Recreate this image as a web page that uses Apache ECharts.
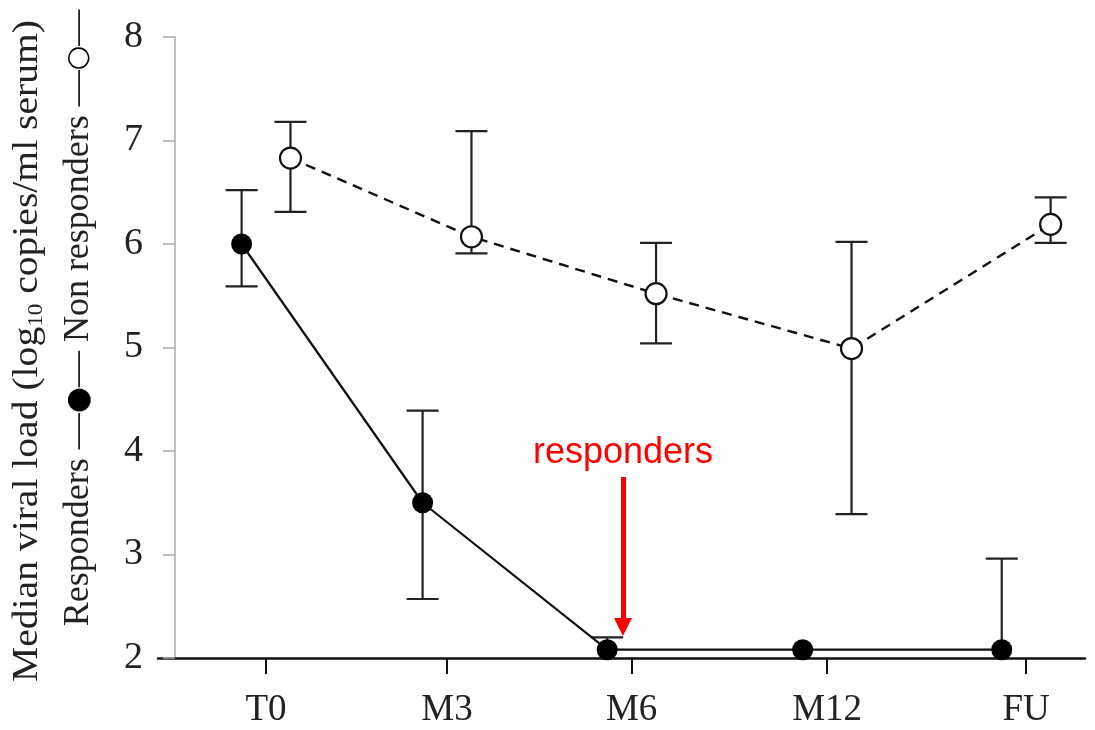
<!DOCTYPE html>
<html>
<head>
<meta charset="utf-8">
<script src="https://cdn.jsdelivr.net/npm/echarts@6/dist/echarts.min.js"></script>
<style>
  html, body { margin: 0; padding: 0; background: #fff; }
  #chart { width: 1095px; height: 730px; }
</style>
</head>
<body>
<div id="chart"></div>
<script>
// time points and where their ticks sit on the x scale
const categories = ['T0', 'M3', 'M6', 'M12', 'FU']
const tickPos = [0, 1, 2.02, 3.1, 4.2]
const dodge = 0.135

// responders (filled circles)
const respMedian = [6.0, 3.5, 2.08, 2.08, 2.08]
const respLow = [5.59, 2.57, null, null, null]
const respHigh = [6.52, 4.39, 2.2, null, 2.96]

// non responders (open circles)
const nonMedian = [6.83, 6.07, 5.52, 4.99, 6.19]
const nonLow = [6.31, 5.91, 5.04, 3.39, 6.01]
const nonHigh = [7.18, 7.09, 6.01, 6.02, 6.45]

// annotation arrow (x in axis units, y values)
const arrowX = 1.972
const arrowFrom = 3.75
const arrowTo = 2.3

const serif = '"Liberation Serif", "DejaVu Serif", serif'

const points = (median, shift) => median.map((v, i) => [tickPos[i] + shift, v])
const bars = (median, low, high, shift) =>
  median.map((v, i) => [tickPos[i] + shift, v, low[i] == null ? '-' : low[i], high[i] == null ? '-' : high[i]])

const renderErrorBar = (params, api) => {
  const x = api.value(0)
  const mid = api.value(1)
  const lo = api.value(2)
  const hi = api.value(3)
  const hasLo = !isNaN(lo)
  const hasHi = !isNaN(hi)
  if (!hasLo && !hasHi) return null
  const pMid = api.coord([x, mid])
  const pLo = api.coord([x, hasLo ? lo : mid])
  const pHi = api.coord([x, hasHi ? hi : mid])
  const half = 16
  const style = { stroke: '#222', lineWidth: 2.2 }
  const children = [{
    type: 'line',
    shape: { x1: pMid[0], y1: pLo[1], x2: pMid[0], y2: pHi[1] },
    style
  }]
  if (hasLo) {
    children.push({ type: 'line', shape: { x1: pLo[0] - half, y1: pLo[1], x2: pLo[0] + half, y2: pLo[1] }, style })
  }
  if (hasHi) {
    children.push({ type: 'line', shape: { x1: pHi[0] - half, y1: pHi[1], x2: pHi[0] + half, y2: pHi[1] }, style })
  }
  return { type: 'group', children }
}

const chart = echarts.init(document.getElementById('chart'))
chart.setOption({
  animation: false,
  backgroundColor: '#fff',
  grid: { left: 158, right: 10, top: 37, bottom: 72 },
  xAxis: {
    type: 'value',
    min: -0.597,
    max: 4.525,
    splitLine: { show: false },
    axisLine: { lineStyle: { color: '#111', width: 2.5 } },
    axisTick: { customValues: tickPos, length: 16, lineStyle: { color: '#111', width: 2 } },
    axisLabel: {
      customValues: tickPos,
      margin: 34,
      fontFamily: serif,
      fontSize: 37,
      color: '#222',
      formatter: (v) => {
        const i = tickPos.findIndex((t) => Math.abs(t - v) < 1e-6)
        return i >= 0 ? categories[i] : ''
      }
    }
  },
  yAxis: {
    type: 'value',
    min: 2,
    max: 8,
    interval: 1,
    offset: -17,
    splitLine: { show: false },
    axisLine: { show: true, onZero: false, lineStyle: { color: '#aaa', width: 1.5 } },
    axisTick: { show: true, length: 12, lineStyle: { color: '#aaa', width: 1.5 } },
    axisLabel: { margin: 32, fontFamily: serif, fontSize: 38, color: '#222' }
  },
  graphic: [{
    type: 'text',
    x: 28,
    y: 351,
    rotation: Math.PI / 2,
    scaleX: 1.1,
    style: {
      text: 'Median viral load (log{sub|10} copies/ml serum)',
      fontSize: 36,
      fontFamily: serif,
      fill: '#222',
      align: 'center',
      verticalAlign: 'middle',
      rich: {
        sub: { fontSize: 21, fontFamily: serif, verticalAlign: 'bottom', padding: [16, 0, 0, 0], fill: '#222' }
      }
    }
  }, {
    type: 'text',
    x: 79,
    y: 318,
    rotation: Math.PI / 2,
    style: {
      text: 'Responders —{dot|●}— Non responders —{ring|○}—',
      fontSize: 36,
      fontFamily: serif,
      fill: '#222',
      align: 'center',
      verticalAlign: 'middle',
      rich: {
        dot: { fontSize: 30, fontFamily: '"DejaVu Sans", sans-serif', fill: '#000' },
        ring: { fontSize: 28, fontFamily: '"DejaVu Sans", sans-serif', fill: '#000' }
      }
    }
  }],
  series: [{
    name: 'Responders error',
    type: 'custom',
    renderItem: renderErrorBar,
    encode: { x: 0, y: [1, 2, 3] },
    data: bars(respMedian, respLow, respHigh, -dodge),
    z: 2
  }, {
    name: 'Non responders error',
    type: 'custom',
    renderItem: renderErrorBar,
    encode: { x: 0, y: [1, 2, 3] },
    data: bars(nonMedian, nonLow, nonHigh, dodge),
    z: 2
  }, {
    name: 'Non responders',
    type: 'line',
    data: points(nonMedian, dodge),
    symbol: 'circle',
    symbolSize: 21,
    itemStyle: { color: '#fff', borderColor: '#111', borderWidth: 2.2 },
    lineStyle: { color: '#111', width: 2.4, type: [10, 7] },
    z: 3
  }, {
    name: 'Responders',
    type: 'line',
    data: points(respMedian, -dodge),
    symbol: 'circle',
    symbolSize: 21,
    itemStyle: { color: '#000' },
    lineStyle: { color: '#111', width: 2.2 },
    z: 4,
    markLine: {
      silent: true,
      symbol: ['none', 'triangle'],
      symbolSize: 18,
      lineStyle: { color: '#ff0000', width: 5, type: 'solid', opacity: 1 },
      itemStyle: { color: '#ff0000' },
      label: {
        show: true,
        position: 'start',
        distance: 6,
        formatter: 'responders',
        color: '#ff0000',
        fontFamily: '"Liberation Sans", Arial, sans-serif',
        fontSize: 36
      },
      data: [[{ coord: [arrowX, arrowFrom] }, { coord: [arrowX, arrowTo] }]]
    }
  }]
})
</script>
</body>
</html>
